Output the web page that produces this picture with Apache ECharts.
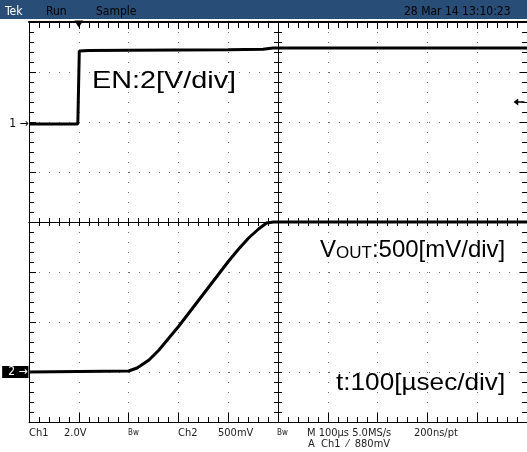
<!DOCTYPE html>
<html><head><meta charset="utf-8">
<script src="https://cdn.jsdelivr.net/npm/echarts@6/dist/echarts.min.js"></script>
<style>html,body{margin:0;padding:0;background:#fff}#c{width:527px;height:452px}</style>
</head><body><div id="c"></div>
<script>
// ---- data (time in µs relative to trigger, 100 µs/div) ----
const timeRange = [-100, 900];
// Ch1 = EN, 2 V/div
const enTime  = [-100, -2, 0, 1, 20, 100, 200, 300, 370, 390, 900];
const enVolts = [0, 0, 0, 2.92, 2.94, 2.95, 2.96, 2.97, 2.99, 3.04, 3.04];
// Ch2 = VOUT, 500 mV/div
const voutTime  = [-100, 100, 117, 141, 161, 181, 201, 221, 241, 261, 281, 301, 321, 341, 361, 377, 391, 900];
const voutVolts = [0, 0.01, 0.04, 0.12, 0.22, 0.34, 0.46, 0.59, 0.72, 0.85, 0.98, 1.11, 1.23, 1.34, 1.43, 1.49, 1.5, 1.5];
// vertical ranges giving each channel's on-screen position
const ch1Range = [-11.92, 4.08];
const ch2Range = [-0.5, 3.5];
const triggerTime = 0;
const triggerLevel = 0.88;
// screen texts
const headerLeft = ['Tek', 'Run', 'Sample'];
const headerDate = '28 Mar 14 13:10:23';
const footerRow1 = ['Ch1', '2.0V', 'Bw', 'Ch2', '500mV', 'Bw', 'M 100µs 5.0MS/s', '200ns/pt'];
const footerRow2 = 'A  Ch1  ⁄  880mV';

const chart = echarts.init(document.getElementById('c'), null, {renderer: 'canvas'});
const GRID = '#707070';
const dots = {show: true, lineStyle: {color: GRID, width: 1, type: [1, 9]}};
function divAxis(extra) {
  return Object.assign({
    type: 'value', min: -5, max: 5, interval: 1,
    axisLabel: {show: false}, splitLine: {show: false},
    axisLine: {show: true, onZero: false, lineStyle: {color: '#000', width: 1}},
    axisTick: {show: true, inside: true, length: 7, lineStyle: {color: '#000'}},
    minorTick: {show: true, splitNumber: 5, length: 5, lineStyle: {color: '#000'}}
  }, extra);
}
function divYAxis(extra) {
  const a = divAxis(extra); a.min = -4; a.max = 4; return a;
}
const mono = '"Liberation Sans Narrow","DejaVu Sans Condensed","Liberation Sans",sans-serif';
const big = '"Liberation Sans",Arial,sans-serif';
const centerTick = {show: true, inside: true, length: 4, lineStyle: {color: '#000'}};
const centerMinor = {show: true, splitNumber: 5, length: 4, lineStyle: {color: '#000'}};
const centerLine = {show: true, onZero: true, onZeroAxisIndex: 0, lineStyle: {color: '#000'}};

const xAxes = [
  divAxis({position: 'bottom', splitLine: dots, axisTick: {show: true, inside: true, length: 9, lineStyle: {color: '#000'}}}),
  divAxis({position: 'top', axisLine: {show: true, onZero: false, lineStyle: {color: '#000', width: 2}}, axisTick: {show: true, inside: true, length: 7, lineStyle: {color: '#000'}}, minorTick: {show: true, splitNumber: 5, length: 6, lineStyle: {color: '#000'}}}),
  divAxis({position: 'bottom', axisLine: centerLine, axisTick: centerTick, minorTick: centerMinor}),
  divAxis({position: 'top', axisLine: centerLine, axisTick: centerTick, minorTick: centerMinor}),
  {type: 'value', min: timeRange[0], max: timeRange[1], show: false}
];
const yAxes = [
  divYAxis({position: 'left', splitLine: dots}),
  divYAxis({position: 'right'}),
  divYAxis({position: 'left', axisLine: centerLine, axisTick: centerTick, minorTick: centerMinor}),
  divYAxis({position: 'right', axisLine: centerLine, axisTick: centerTick, minorTick: centerMinor}),
  {type: 'value', min: ch1Range[0], max: ch1Range[1], show: false},
  {type: 'value', min: ch2Range[0], max: ch2Range[1], show: false}
];

const zip = (a, b) => a.map((v, i) => [v, b[i]]);

chart.setOption({
  animation: false,
  backgroundColor: '#fff',
  grid: {left: 29, top: 22, width: 500, height: 400, containLabel: false},
  xAxis: xAxes,
  yAxis: yAxes,
  series: [
    {
      type: 'line', name: 'EN', xAxisIndex: 4, yAxisIndex: 4, data: zip(enTime, enVolts),
      showSymbol: false, lineStyle: {color: '#000', width: 3}, z: 5,
      markPoint: {
        silent: true,
        data: [
          {coord: [timeRange[0], 0], symbol: 'rect', symbolSize: 1, itemStyle: {color: 'rgba(0,0,0,0)'},
           label: {show: true, position: 'left', distance: 0, formatter: '1 →', color: '#000', fontSize: 12, fontFamily: mono}},
          {coord: [triggerTime, ch1Range[1]], symbol: 'triangle', symbolRotate: 180, symbolSize: [9, 7], symbolOffset: [0, 2],
           itemStyle: {color: '#000'}, label: {show: false}},
          {coord: [timeRange[1], triggerLevel], symbol: 'path://M0,5 L6,0 L6,4 L14,4 L14,6 L6,6 L6,10 Z', symbolSize: [11, 7], symbolOffset: [-8, 0],
           itemStyle: {color: '#000'}, label: {show: false}}
        ]
      }
    },
    {
      type: 'line', name: 'VOUT', xAxisIndex: 4, yAxisIndex: 5, data: zip(voutTime, voutVolts),
      showSymbol: false, lineStyle: {color: '#000', width: 3}, z: 5,
      markPoint: {
        silent: true,
        data: [
          {coord: [timeRange[0], 0], symbol: 'rect', symbolSize: 1, itemStyle: {color: 'rgba(0,0,0,0)'},
           label: {show: true, position: 'left', distance: 0, formatter: '2 →', color: '#fff', backgroundColor: '#000',
                   padding: [0, 1, 0, 6], fontSize: 12, fontFamily: mono}}
        ]
      }
    }
  ],
  graphic: [
    {type: 'rect', shape: {x: 0, y: 0, width: 527, height: 19}, style: {fill: '#284d77'}, z: 10},
    {type: 'text', x: 5, y: 18, z: 11, style: {text: headerLeft[0], fill: '#fff', font: '12px ' + mono, verticalAlign: 'bottom'}},
    {type: 'text', x: 46, y: 18, z: 11, style: {text: headerLeft[1], fill: '#000', font: '12px ' + mono, verticalAlign: 'bottom'}},
    {type: 'text', x: 96, y: 18, z: 11, style: {text: headerLeft[2], fill: '#000', font: '12px ' + mono, verticalAlign: 'bottom'}},
    {type: 'text', x: 404, y: 18, z: 11, style: {text: headerDate, fill: '#000', font: '12px ' + mono, verticalAlign: 'bottom'}},
    {type: 'text', x: 92, y: 81, z: 11, style: {text: 'EN:2[V/div]', fill: '#000', font: '24px ' + big, verticalAlign: 'middle'}, scaleX: 1.2},
    {type: 'text', x: 320, y: 248, z: 11, style: {
      text: '{a|V}{b|OUT}{a|:500[mV/div]}', fill: '#000', verticalAlign: 'middle',
      rich: {a: {fontSize: 24, fontFamily: big, verticalAlign: 'bottom', lineHeight: 28},
             b: {fontSize: 17, fontFamily: big, verticalAlign: 'bottom', lineHeight: 28}}}},
    {type: 'text', x: 336, y: 383, z: 11, style: {text: 't:100[µsec/div]', fill: '#000', font: '24px ' + big, verticalAlign: 'middle'}, scaleX: 1.09},
    {type: 'text', x: 29, y: 433, style: {text: footerRow1[0], fill: '#222', font: '11px ' + mono, verticalAlign: 'middle'}},
    {type: 'text', x: 64, y: 433, style: {text: footerRow1[1], fill: '#222', font: '11px ' + mono, verticalAlign: 'middle'}},
    {type: 'text', x: 128, y: 433, style: {text: footerRow1[2], fill: '#222', font: '8px ' + mono, verticalAlign: 'middle'}},
    {type: 'text', x: 178, y: 433, style: {text: footerRow1[3], fill: '#222', font: '11px ' + mono, verticalAlign: 'middle'}},
    {type: 'text', x: 218, y: 433, style: {text: footerRow1[4], fill: '#222', font: '11px ' + mono, verticalAlign: 'middle'}},
    {type: 'text', x: 277, y: 433, style: {text: footerRow1[5], fill: '#222', font: '8px ' + mono, verticalAlign: 'middle'}},
    {type: 'text', x: 307, y: 433, style: {text: footerRow1[6], fill: '#222', font: '11px ' + mono, verticalAlign: 'middle'}},
    {type: 'text', x: 414, y: 433, style: {text: footerRow1[7], fill: '#222', font: '11px ' + mono, verticalAlign: 'middle'}},
    {type: 'text', x: 308, y: 444, style: {text: footerRow2, fill: '#222', font: '11px ' + mono, verticalAlign: 'middle'}}
  ]
});
</script></body></html>
